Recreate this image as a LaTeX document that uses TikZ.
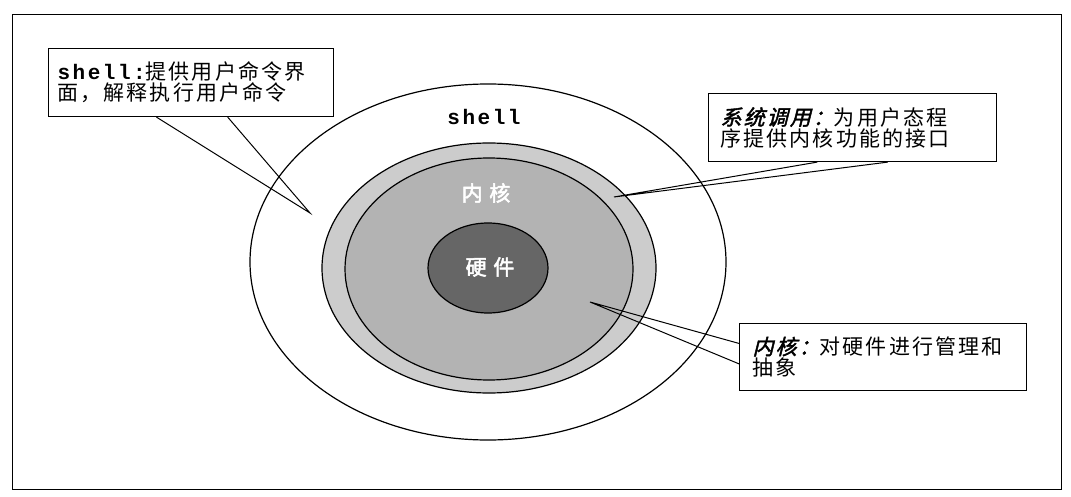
\documentclass[tikz,border=0pt]{standalone}
\usepackage{fontspec}
\usetikzlibrary{shapes.geometric,calc}
\newfontfamily\cjk[LetterSpace=10]{Noto Sans CJK SC}
\newfontfamily\cjkbi[LetterSpace=10,FakeSlant=0.25,FakeBold=2]{Noto Sans CJK SC}
\newfontfamily\cjkb[LetterSpace=32,FakeBold=2.5]{Noto Sans CJK SC}
\newfontfamily\monofnt[LetterSpace=12]{Liberation Mono}
\definecolor{ringlight}{HTML}{CCCCCC}
\definecolor{ringmid}{HTML}{B3B3B3}
\definecolor{core}{HTML}{666666}
\begin{document}
\begin{tikzpicture}[x=1pt,y=-1pt,
  ring/.style={ellipse,draw=black,line width=1.2pt,inner sep=0pt},
  callout/.style={draw=black,line width=1.1pt,fill=white,align=left,
    font=\fontsize{21}{21}\cjk,text=black},
  pointer/.style={draw=black,line width=1pt},
  centerlabel/.style={text=white,font=\fontsize{21}{21}\cjkb,inner sep=0pt}]
\useasboundingbox (0,0) rectangle (1071,497);
\node[draw=black,line width=1pt,minimum width=1049pt,minimum height=475pt,inner sep=0pt,anchor=north west] (frame) at (12,14) {};

\node[ring,fill=white,minimum width=476pt,minimum height=356pt] (shellring) at (488,262) {};
\node[ring,fill=ringlight,minimum width=334pt,minimum height=250pt] (syscall) at (489,268) {};
\node[ring,fill=ringmid,minimum width=288pt,minimum height=222pt] (kernel) at (489,269) {};
\node[ring,fill=core,minimum width=120pt,minimum height=90pt] (hw) at (488,268) {};

\node[inner sep=0pt,font=\fontsize{21}{21}\monofnt\bfseries] (shelllabel) at (484,117) {shell};
\node[centerlabel] (kernlabel) at (486,193) {内核};
\node[centerlabel] (hwlabel) at (490,267) {硬件};

\node[callout,inner xsep=9pt,text width=267pt,minimum height=68pt,anchor=north west] (c1) at (48,48)
  {{\monofnt\bfseries shell:}提供用户命令界\\面，解释执行用户命令};
\node[callout,inner xsep=12pt,text width=264pt,minimum height=68pt,anchor=north west] (c2) at (708,93)
  {{\cjkbi 系统调用：}为用户态程\\序提供内核功能的接口};
\node[callout,inner xsep=13pt,text width=261pt,minimum height=67pt,anchor=north west] (c3) at (739,323)
  {{\cjkbi 内核：}对硬件进行管理和\\抽象};

\coordinate (t1) at (310,213);
\coordinate (t2) at (614,197);
\coordinate (t3) at (590,302);

\draw[pointer] ($(c1.south west)!0.379!(c1.south east)$) -- (t1) -- ($(c1.south west)!0.628!(c1.south east)$);
\draw[pointer] ($(c2.south west)!0.378!(c2.south east)$) -- (t2) -- ($(c2.south west)!0.622!(c2.south east)$);
\draw[pointer] ($(c3.north west)!0.30!(c3.south west)$) -- (t3) -- ($(c3.north west)!0.60!(c3.south west)$);
\end{tikzpicture}
\end{document}
